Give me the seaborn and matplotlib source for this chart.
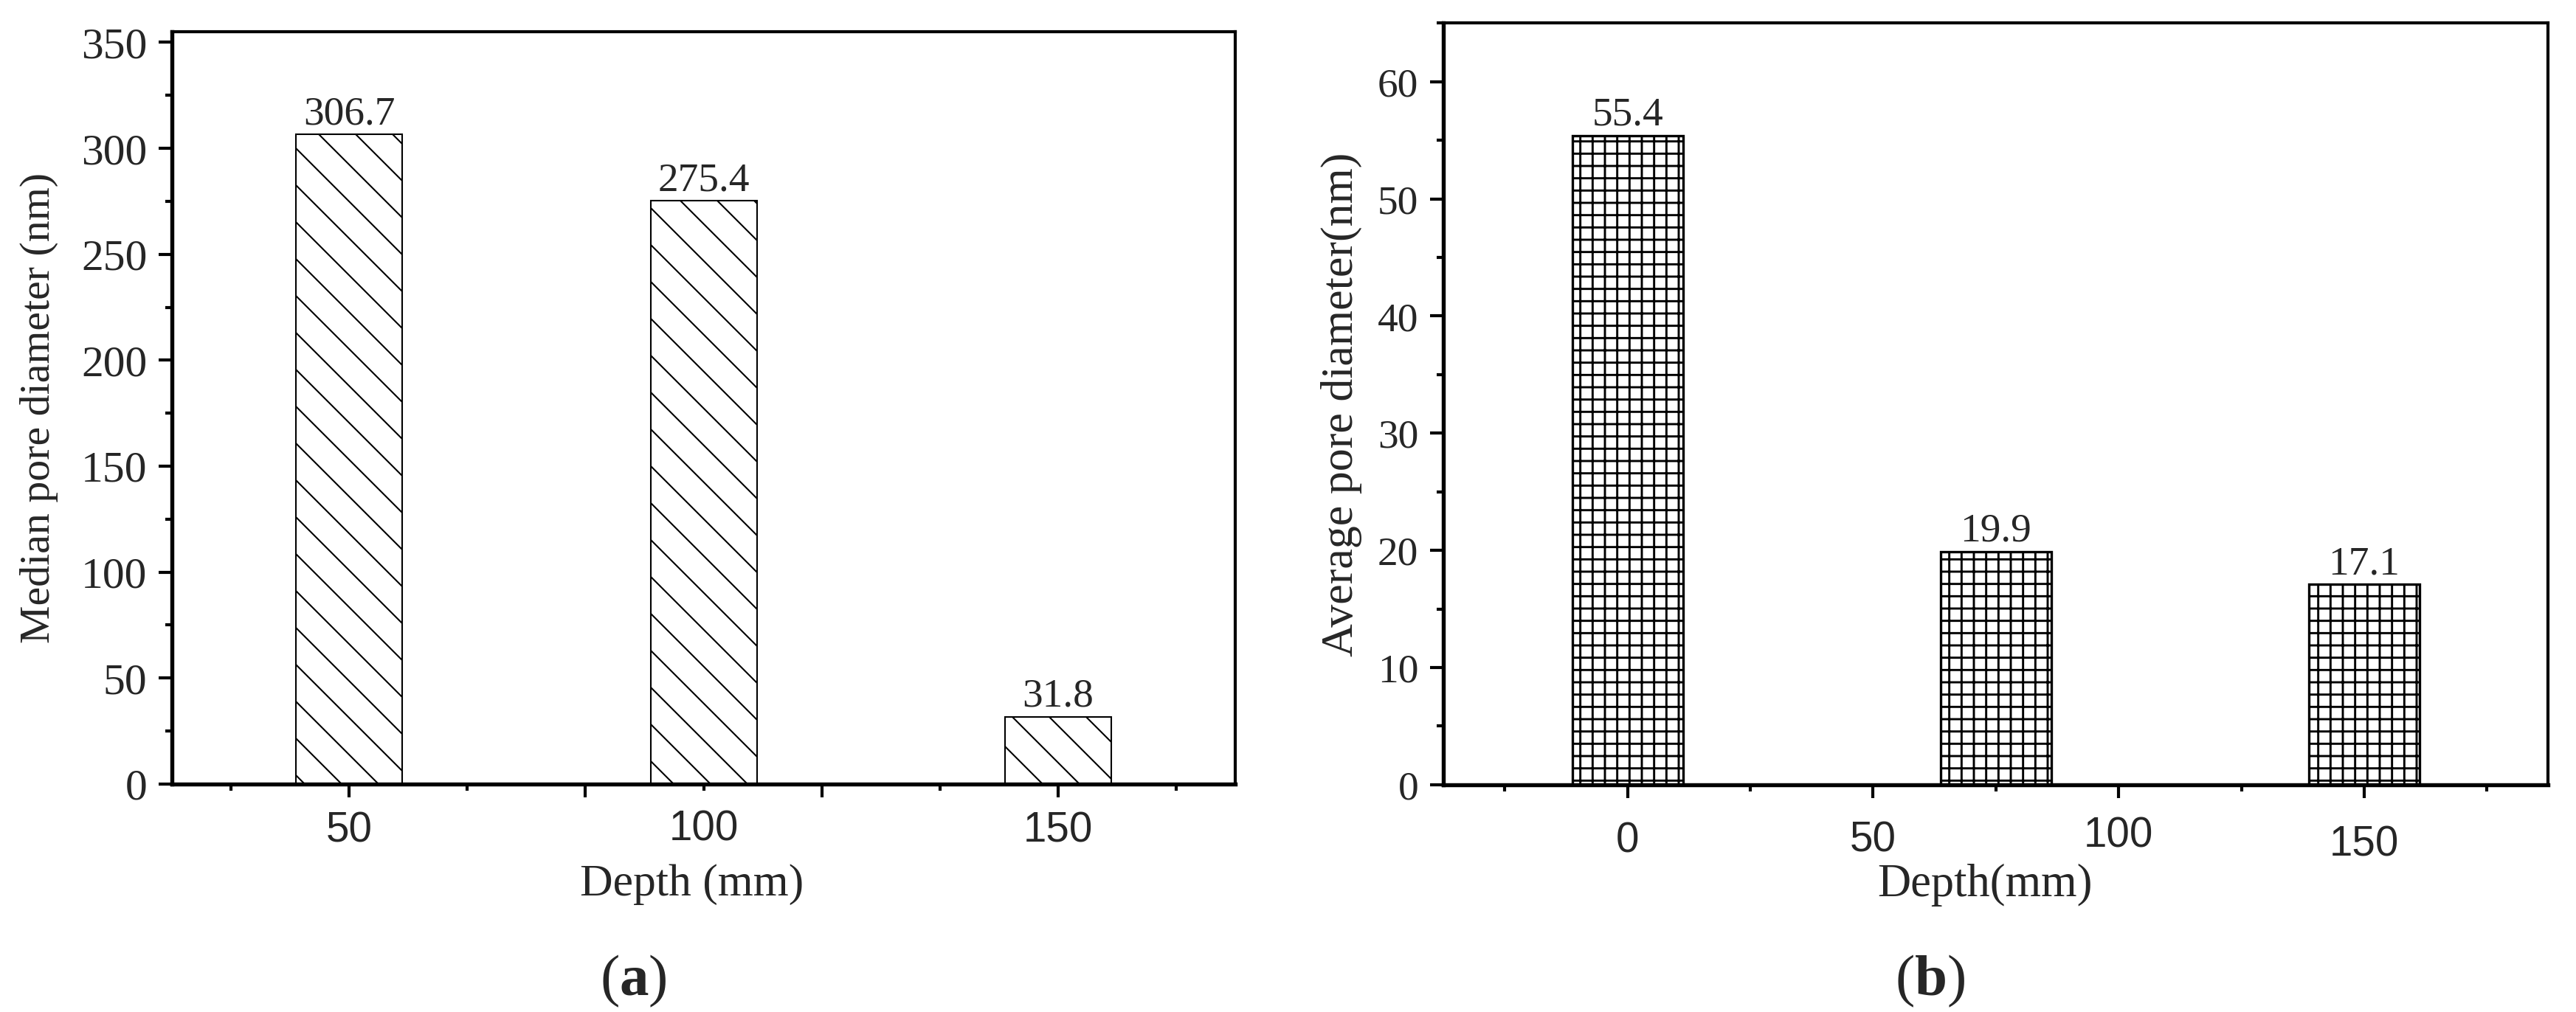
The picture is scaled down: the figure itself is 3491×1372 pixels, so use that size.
import matplotlib
matplotlib.use('Agg')
import matplotlib.pyplot as plt
import matplotlib.transforms as mtransforms
from matplotlib.ticker import FixedLocator, FixedFormatter, MultipleLocator
import seaborn as sns

# ---- data ----
depth_a = [50, 100, 150]
median_pore = [306.7, 275.4, 31.8]

depth_b = [0, 75, 150]
average_pore = [55.4, 19.9, 17.1]

# tick positions / labels (the original Origin axes are a bit odd)
xmajor_a = [50, 83.33, 116.67, 150]
xmajor_labels_a = ['50', '', '', '150']
xminor_a = [33.33, 66.67, 100, 133.33, 166.67]
xminor_labels_a = ['', '', '100', '', '']

xmajor_b = [0, 50, 100, 150]
xmajor_labels_b = ['0', '50', '100', '150']
xminor_b = [-25, 25, 75, 125, 175]

sns.set_style('ticks')
plt.rcParams['font.family'] = ['Liberation Serif', 'DejaVu Serif']
plt.rcParams['mathtext.fontset'] = 'custom'
plt.rcParams['mathtext.rm'] = 'Liberation Serif'
plt.rcParams['mathtext.bf'] = 'Liberation Serif:bold'
plt.rcParams['hatch.color'] = 'black'
plt.rcParams['hatch.linewidth'] = 0.6

W, H, DPI = 3491, 1372, 300
fig = plt.figure(figsize=((W + 0.4) / DPI, (H + 0.4) / DPI), dpi=DPI)
ax_a = fig.add_axes([233 / W, 1 - 1063 / H, 1441 / W, 1019.5 / H])
ax_b = fig.add_axes([1956 / W, 1 - 1064 / H, 1497 / W, 1032.4 / H])


def style_axes(ax, ylabelsize):
    for side in ['left', 'bottom']:
        ax.spines[side].set_linewidth(1.3)
    for side in ['top', 'right']:
        ax.spines[side].set_linewidth(1.0)
    for s in ax.spines.values():
        s.set_color('black')
        s.set_visible(True)
    ax.tick_params(which='major', direction='out', length=4.3, width=1.0, color='black')
    ax.tick_params(which='minor', direction='out', length=2.2, width=1.0, color='black')
    ax.tick_params(axis='y', which='both', pad=3.8, labelsize=ylabelsize)


def set_hatch_lw(ax, lw):
    for p in ax.patches:
        if hasattr(p, 'set_hatch_linewidth'):
            p.set_hatch_linewidth(lw)


# ---- (a) median pore diameter ----
sns.barplot(x=depth_a, y=median_pore, native_scale=True, width=0.3,
            color='white', saturation=1, edgecolor='black', linewidth=0.5,
            hatch='\\\\', errorbar=None, ax=ax_a)
set_hatch_lw(ax_a, 0.5)
ax_a.bar_label(ax_a.containers[0], labels=[f'{v:.1f}' for v in median_pore],
               padding=0.5, fontsize=13.3)
ax_a.set_xlim(25, 175)
ax_a.set_ylim(0, 355)
style_axes(ax_a, 14.3)
ax_a.yaxis.set_major_locator(MultipleLocator(50))
ax_a.yaxis.set_minor_locator(MultipleLocator(25))
ax_a.xaxis.set_major_locator(FixedLocator(xmajor_a))
ax_a.xaxis.set_major_formatter(FixedFormatter(xmajor_labels_a))
ax_a.xaxis.set_minor_locator(FixedLocator(xminor_a))
ax_a.xaxis.set_minor_formatter(FixedFormatter(xminor_labels_a))
ax_a.tick_params(axis='x', which='major', pad=4.5, labelsize=13.6,
                 labelfontfamily='Liberation Sans')
ax_a.tick_params(axis='x', which='minor', pad=6.0, labelsize=13.6,
                 labelfontfamily='Liberation Sans')
ax_a.set_ylabel('Median pore diameter (nm)', fontsize=13.9)
ax_a.yaxis.set_label_coords(-0.1249, 0.5)
ax_a.yaxis.label.set_va('center')
ax_a.set_xlabel('Depth (mm)', fontsize=14.8)
ax_a.xaxis.set_label_coords(0.489, -0.1334)
ax_a.xaxis.label.set_va('center')

# ---- (b) average pore diameter ----
sns.barplot(x=depth_b, y=average_pore, native_scale=True, width=0.3,
            color='white', saturation=1, edgecolor='black', linewidth=0.8,
            hatch='+++', errorbar=None, ax=ax_b)
set_hatch_lw(ax_b, 0.7)
ax_b.bar_label(ax_b.containers[0], labels=[f'{v:.1f}' for v in average_pore],
               padding=0.6, fontsize=13.3)
ax_b.set_xlim(-37.5, 187.5)
ax_b.set_ylim(0, 65)
style_axes(ax_b, 13.3)
ax_b.yaxis.set_major_locator(MultipleLocator(10))
ax_b.yaxis.set_minor_locator(MultipleLocator(5))
ax_b.xaxis.set_major_locator(FixedLocator(xmajor_b))
ax_b.xaxis.set_major_formatter(FixedFormatter(xmajor_labels_b))
ax_b.xaxis.set_minor_locator(FixedLocator(xminor_b))
ax_b.tick_params(axis='x', which='major', pad=7.4, labelsize=13.6,
                 labelfontfamily='Liberation Sans')
ax_b.set_ylabel('Average pore diameter(nm)', fontsize=14.9)
ax_b.yaxis.set_label_coords(-0.0922, 0.5)
ax_b.yaxis.label.set_va('center')
ax_b.set_xlabel('Depth(mm)', fontsize=15)
ax_b.xaxis.set_label_coords(0.490, -0.131)
ax_b.xaxis.label.set_va('center')

# the tick labels in (b) are slightly staggered in the original
label_shift_px = [0, 1, 7, -5]
for lab, d in zip(ax_b.get_xticklabels(), label_shift_px):
    lab.set_transform(lab.get_transform() +
                      mtransforms.ScaledTranslation(0, d / DPI, fig.dpi_scale_trans))

fig.text(858 / W, 1 - 1330 / H, r'($\mathbf{a}$)', ha='center', va='center', fontsize=19)
fig.text(2615 / W, 1 - 1330 / H, r'($\mathbf{b}$)', ha='center', va='center', fontsize=19)

fig.savefig('out.png', dpi=DPI, facecolor='white')
